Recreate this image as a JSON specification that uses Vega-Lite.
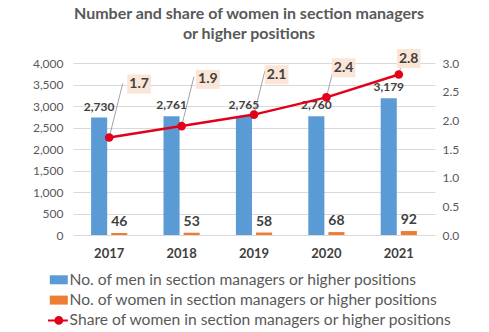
{
  "$schema": "https://vega.github.io/schema/vega-lite/v6.json",
  "width": 362,
  "height": 172,
  "autosize": {"type": "none"},
  "padding": {"left": 73, "top": 63, "right": 54, "bottom": 97},
  "background": "white",
  "config": {"font": "Lato", "view": {"stroke": null}},
  "title": {
    "text": ["Number and share of women in section managers", "or higher positions"],
    "fontSize": 16, "fontWeight": "bold", "color": "#595959",
    "anchor": "middle", "offset": 7, "lineHeight": 20, "dx": -5, "font": "Lato"
  },
  "data": {
    "values": [
      {"year": "2017", "men": 2730, "women": 46, "share": 1.7},
      {"year": "2018", "men": 2761, "women": 53, "share": 1.9},
      {"year": "2019", "men": 2765, "women": 58, "share": 2.1},
      {"year": "2020", "men": 2760, "women": 68, "share": 2.4},
      {"year": "2021", "men": 3179, "women": 92, "share": 2.8}
    ]
  },
  "layer": [
    {
      "transform": [{"fold": ["men", "women"], "as": ["series", "value"]}],
      "encoding": {
        "x": {
          "field": "year", "type": "nominal",
          "scale": {"paddingInner": 0.5, "paddingOuter": 0.25},
          "axis": {"title": null, "labelAngle": 0, "labelFontSize": 13, "labelFontWeight": "bold", "labelColor": "#404040", "domain": false, "ticks": false, "labelPadding": 12}
        },
        "xOffset": {"field": "series", "type": "nominal", "scale": {"paddingInner": 0.2}},
        "y": {
          "field": "value", "type": "quantitative",
          "scale": {"domain": [0, 4000]},
          "axis": {"title": null, "values": [0, 500, 1000, 1500, 2000, 2500, 3000, 3500, 4000], "format": ",.0f", "grid": true, "gridColor": "#d9d9d9", "domain": false, "ticks": false, "labelFontSize": 12, "labelColor": "#595959", "labelPadding": 10}
        }
      },
      "layer": [
        {
          "mark": {"type": "bar"},
          "encoding": {
            "color": {
              "field": "series", "type": "nominal",
              "scale": {"domain": ["men", "women", "share"], "range": ["#5B9BD5", "#ED7D31", "#E2001A"]},
              "legend": {
                "orient": "none", "legendX": -22, "legendY": 209, "direction": "vertical", "title": null,
                "labelFontSize": 15.6, "labelColor": "#595959", "labelFont": "Lato", "symbolSize": 324,
                "rowPadding": 3.3, "labelOffset": 3, "labelLimit": 460,
                "labelExpr": "datum.label == 'men' ? 'No. of men  in section managers or higher positions' : datum.label == 'women' ? 'No. of women in section managers or higher positions' : 'Share of women in section managers or higher positions'",
                "encode": {
                  "symbols": {
                    "update": {
                      "shape": {"signal": "datum.value === 'share' ? 'M-1.2,0 L1,0 M0.38,0 A0.38,0.38 0 1,1 -0.38,0 A0.38,0.38 0 1,1 0.38,0 Z' : 'M-1,-0.5 L1,-0.5 L1,0.5 L-1,0.5 Z'"},
                      "fill": {"scale": "color", "field": "value"},
                      "stroke": {"scale": "color", "field": "value"},
                      "strokeWidth": {"signal": "datum.value === 'share' ? 2 : 0"},
                      "opacity": {"value": 1}
                    }
                  }
                }
              }
            }
          }
        },
        {
          "transform": [{"filter": "datum.series == 'men'"}],
          "mark": {"type": "text", "dy": -11, "fontSize": 12, "fontWeight": "bold", "color": "#404040"},
          "encoding": {"text": {"field": "value", "type": "quantitative", "format": ",.0f"}}
        },
        {
          "transform": [{"filter": "datum.series == 'women'"}],
          "mark": {"type": "text", "dy": -11, "fontSize": 14, "fontWeight": "bold", "color": "#404040"},
          "encoding": {"text": {"field": "value", "type": "quantitative", "format": ",.0f"}}
        }
      ]
    },
    {
      "encoding": {"x": {"field": "year", "type": "nominal"}},
      "layer": [
        {
          "encoding": {
            "y": {
              "field": "share", "type": "quantitative",
              "scale": {"domain": [0, 3]},
              "axis": {"title": null, "orient": "right", "values": [0, 0.5, 1, 1.5, 2, 2.5, 3], "format": ".1f", "grid": false, "domain": false, "ticks": false, "labelFontSize": 12, "labelColor": "#595959", "labelPadding": 7}
            }
          },
          "layer": [
            {
              "mark": {"type": "point", "shape": "M0,0 L0.25,-1", "filled": false, "stroke": "#8c8c8c", "strokeWidth": 0.8, "opacity": 1},
              "encoding": {
                "size": {"field": "share", "type": "quantitative", "scale": {"domain": [1.7, 2.8], "range": [11664, 1089]}, "legend": null}
              }
            },
            {
              "mark": {"type": "line", "strokeWidth": 2.5},
              "encoding": {"color": {"datum": "share"}}
            },
            {
              "mark": {"type": "point", "filled": true, "opacity": 1, "size": 75, "color": "#E2001A"}
            }
          ]
        },
        {
          "encoding": {
            "y": {"field": "share", "type": "quantitative", "scale": {"domain": [1.7, 2.8], "range": [21, -4.5], "zero": false, "nice": false}, "axis": null},
            "xOffset": {"field": "share", "type": "quantitative", "scale": {"domain": [1.7, 2.8], "range": [48, 28], "zero": false, "nice": false}}
          },
          "layer": [
            {
              "mark": {"type": "point", "shape": "M-1.25,-1 L1.25,-1 L1.25,1 L-1.25,1 Z", "filled": true, "color": "#FBE5D6", "opacity": 1, "size": 361}
            },
            {
              "mark": {"type": "text", "fontSize": 14, "fontWeight": "bold", "color": "#404040"},
              "encoding": {"text": {"field": "share", "type": "quantitative", "format": ".1f"}}
            }
          ]
        }
      ],
      "resolve": {"scale": {"y": "independent"}}
    }
  ],
  "resolve": {"scale": {"y": "independent", "xOffset": "independent"}}
}
